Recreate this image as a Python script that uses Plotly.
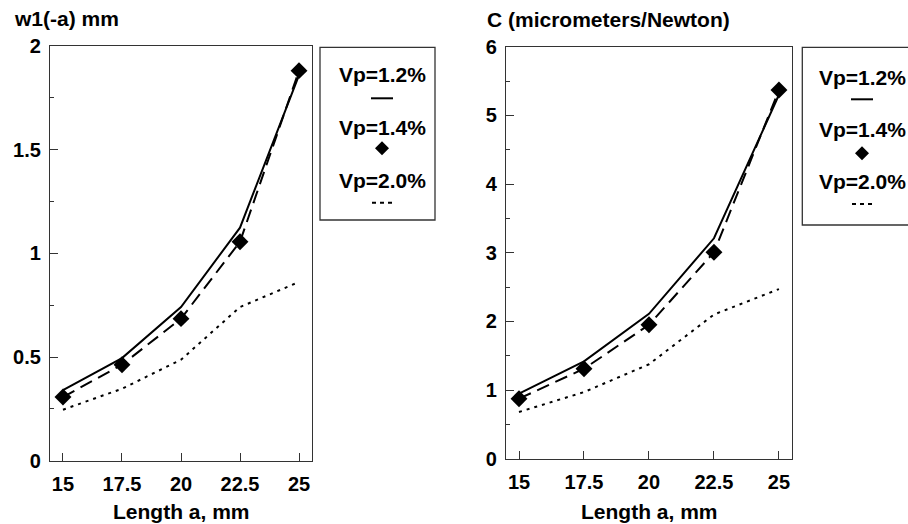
import plotly.graph_objects as go

# ---------------- data ----------------
length_a = [15, 17.5, 20, 22.5, 25]
x_ticks = [15, 17.5, 20, 22.5, 25]
x_tick_text = ["15", "17.5", "20", "22.5", "25"]

w1_vp12 = [0.34, 0.495, 0.741, 1.124, 1.86]
w1_vp14 = [0.307, 0.463, 0.685, 1.056, 1.881]
w1_vp20 = [0.246, 0.347, 0.487, 0.741, 0.862]

c_vp12 = [0.947, 1.418, 2.11, 3.21, 5.30]
c_vp14 = [0.874, 1.31, 1.95, 3.006, 5.37]
c_vp20 = [0.68, 0.97, 1.375, 2.10, 2.47]

w_ticks = [0, 0.5, 1, 1.5, 2]
w_tick_text = ["0", "0.5", "1", "1.5", "2"]
c_ticks = [0, 1, 2, 3, 4, 5, 6]
c_tick_text = ["0", "1", "2", "3", "4", "5", "6"]

legend_labels = ["Vp=1.2%", "Vp=1.4%", "Vp=2.0%"]

W, H = 908, 524
FONT = "Liberation Sans, Arial, sans-serif"
FS = 21
TFS = 20


def px(x):
    return x / W


def py(y):
    return 1 - y / H


def b(s):
    return f"<b>{s}</b>"


fig = go.Figure()

DASH = "13px,7px"
DOT = "3px,5px"

for xa, ya, s12, s14, s20 in [("x", "y", w1_vp12, w1_vp14, w1_vp20),
                              ("x2", "y2", c_vp12, c_vp14, c_vp20)]:
    fig.add_trace(go.Scatter(x=length_a, y=s12, mode="lines", xaxis=xa, yaxis=ya,
                             line=dict(color="black", width=2), showlegend=False))
    fig.add_trace(go.Scatter(x=length_a, y=s14, mode="lines+markers", xaxis=xa, yaxis=ya,
                             line=dict(color="black", width=2, dash=DASH),
                             marker=dict(symbol="diamond", size=13, color="black"),
                             showlegend=False))
    fig.add_trace(go.Scatter(x=length_a, y=s20, mode="lines", xaxis=xa, yaxis=ya,
                             line=dict(color="black", width=2, dash=DOT), showlegend=False))

axis_common = dict(showline=True, linecolor="#333", linewidth=1.3, mirror=True,
                   showgrid=False, zeroline=False, ticks="inside", ticklen=8,
                   tickcolor="#333", tickwidth=1.3, automargin=False,
                   tickfont=dict(family=FONT, size=TFS, color="black"))

fig.update_layout(
    width=W, height=H, margin=dict(l=0, r=0, t=0, b=0, autoexpand=False),
    paper_bgcolor="white", plot_bgcolor="white",
    xaxis=dict(domain=[px(50), px(312)], range=[14.45, 25.55], anchor="y",
               tickvals=x_ticks, ticktext=[b(t) for t in x_tick_text],
               ticklabelstandoff=5, **axis_common),
    yaxis=dict(domain=[py(460.7), py(46)], range=[0, 2], anchor="x",
               tickvals=w_ticks, ticktext=[b(t) for t in w_tick_text],
               ticklabelstandoff=4,
               minor=dict(dtick=0.25, ticklen=4, ticks="inside", tickcolor="#333"),
               **axis_common),
    xaxis2=dict(domain=[px(506), px(791.7)], range=[14.5, 25.49], anchor="y2",
                tickvals=x_ticks, ticktext=[b(t) for t in x_tick_text],
                ticklabelstandoff=5, **axis_common),
    yaxis2=dict(domain=[py(458.7), py(46.7)], range=[0, 6], anchor="x2",
                tickvals=c_ticks, ticktext=[b(t) for t in c_tick_text],
                ticklabelstandoff=4,
                minor=dict(dtick=0.5, ticklen=4, ticks="inside", tickcolor="#333"),
                **axis_common),
)

ann = []
tf = dict(family=FONT, size=FS, color="black")
# y-axis titles
ann.append(dict(text=b("w1(-a) mm"), x=px(12), y=py(19), xref="paper", yref="paper",
                xanchor="left", yanchor="middle", showarrow=False, font=tf))
ann.append(dict(text=b("C (micrometers/Newton)"), x=px(485), y=py(20), xref="paper", yref="paper",
                xanchor="left", yanchor="middle", showarrow=False, font=tf))
# x-axis titles
for cx in (181, 649):
    ann.append(dict(text=b("Length a, mm"), x=px(cx), y=py(511), xref="paper", yref="paper",
                    xanchor="center", yanchor="middle", showarrow=False, font=tf))

shapes = []
# legend boxes (the right one runs off the page edge, so it is drawn open on that side)
legend_specs = [
    dict(box=(320, 47.3, 435, 220), closed=True, cx=382,
         ys=(74.5, 98.3, 127.5, 148.3, 180.5, 202.7)),
    dict(box=(802.3, 47.3, 908, 225), closed=False, cx=862,
         ys=(77, 99.3, 129.5, 153.3, 182, 204)),
]
for spec in legend_specs:
    x0, y0, x1, y1 = spec["box"]
    if spec["closed"]:
        shapes.append(dict(type="rect", xref="paper", yref="paper",
                           x0=px(x0), x1=px(x1), y0=py(y1), y1=py(y0),
                           line=dict(color="#333", width=1.3), fillcolor="rgba(0,0,0,0)"))
    else:
        path = (f"M {px(x1)} {py(y0)} L {px(x0)} {py(y0)} "
                f"L {px(x0)} {py(y1)} L {px(x1)} {py(y1)}")
        shapes.append(dict(type="path", xref="paper", yref="paper", path=path,
                           line=dict(color="#333", width=1.3)))
    cx = spec["cx"]
    t1, s1, t2, s2, t3, s3 = spec["ys"]
    for lbl, ty in zip(legend_labels, (t1, t2, t3)):
        ann.append(dict(text=b(lbl), x=px(cx), y=py(ty), xref="paper", yref="paper",
                        xanchor="center", yanchor="middle", showarrow=False, font=tf))
    # solid sample
    shapes.append(dict(type="line", xref="paper", yref="paper",
                       x0=px(cx - 11), x1=px(cx + 11), y0=py(s1), y1=py(s1),
                       line=dict(color="black", width=2)))
    # diamond sample
    d = 7
    path = (f"M {px(cx)} {py(s2 - d)} L {px(cx + d)} {py(s2)} "
            f"L {px(cx)} {py(s2 + d)} L {px(cx - d)} {py(s2)} Z")
    shapes.append(dict(type="path", xref="paper", yref="paper", path=path,
                       fillcolor="black", line=dict(color="black", width=0)))
    # dashed sample
    shapes.append(dict(type="line", xref="paper", yref="paper",
                       x0=px(cx - 10), x1=px(cx + 10), y0=py(s3), y1=py(s3),
                       line=dict(color="black", width=2, dash="4px,4px")))

fig.update_layout(annotations=ann, shapes=shapes)
fig.write_html("out.html")
